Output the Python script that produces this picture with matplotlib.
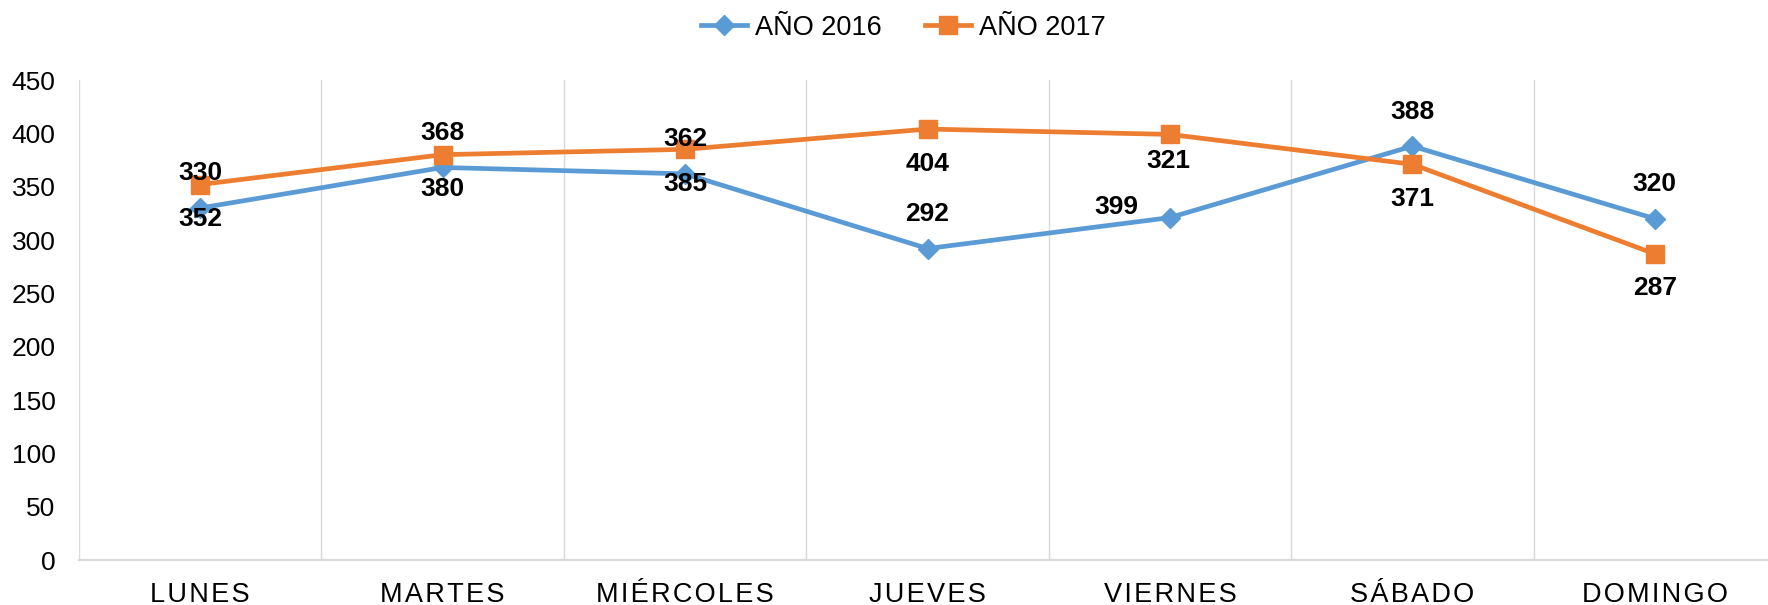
import numpy as np
import matplotlib
matplotlib.use("Agg")
import matplotlib.pyplot as plt

plt.rcParams['font.family'] = ['Liberation Sans', 'DejaVu Sans']

# ---- data ----
categories = ["LUNES", "MARTES", "MIÉRCOLES", "JUEVES", "VIERNES", "SÁBADO", "DOMINGO"]
series_names = ["AÑO 2016", "AÑO 2017"]
values_2016 = [330, 368, 362, 292, 321, 388, 320]
values_2017 = [352, 380, 385, 404, 399, 371, 287]
yticks = [0, 50, 100, 150, 200, 250, 300, 350, 400, 450]

# label offsets in pixels (style)
off_2016 = [(0, 34.5)] * 4 + [(-2, 57)] + [(0, 34.5)] * 2
off_2017 = [(0, -34.5)] * 4 + [(-54, -72.5)] + [(0, -34.5)] * 2

blue = "#5B9BD5"
orange = "#ED7D31"
grid_c = "#D9D9D9"

W, H = 1768, 605
fig = plt.figure(figsize=(W / 100, H / 100), dpi=100)
ax = fig.add_axes([79 / W, 45 / H, 1697 / W, 480 / H])

x = np.arange(len(categories)) + 0.5
l1, = ax.plot(x, values_2016, color=blue, lw=3.4, marker="D", ms=10.5,
              label=series_names[0], zorder=3)
l2, = ax.plot(x, values_2017, color=orange, lw=3.4, marker="s", ms=13,
              label=series_names[1], zorder=4)

for xi, v, o in zip(x, values_2016, off_2016):
    ax.annotate(str(v), (xi, v), xytext=o, textcoords="offset pixels",
                ha="center", va="center", fontsize=19, fontweight="bold",
                color="black", zorder=5, annotation_clip=False)
for xi, v, o in zip(x, values_2017, off_2017):
    ax.annotate(str(v), (xi, v), xytext=o, textcoords="offset pixels",
                ha="center", va="center", fontsize=19, fontweight="bold",
                color="black", zorder=5, annotation_clip=False)

ax.set_xlim(0, len(categories))
ax.set_ylim(0, 450)
ax.set_yticks(yticks)
ax.set_yticklabels([str(t) for t in yticks])
ax.set_xticks(x)
ax.set_xticklabels(["\u200a".join(c) for c in categories])
ax.set_xticks(np.arange(len(categories) + 1), minor=True)
ax.grid(which="minor", axis="x", color=grid_c, lw=1.0)
ax.grid(which="major", axis="both", visible=False)
ax.tick_params(which="both", length=0)
ax.tick_params(axis="y", labelsize=19, pad=17, colors="black")
ax.tick_params(axis="x", labelsize=19.5, pad=16, colors="black")

for s in ["top", "right", "left"]:
    ax.spines[s].set_visible(False)
ax.spines["bottom"].set_color(grid_c)
ax.spines["bottom"].set_linewidth(1.6)

fig.legend(handles=[l1, l2], loc="center", bbox_to_anchor=(0.511, 0.954),
           ncol=2, frameon=False, fontsize=19.5, handlelength=1.7,
           handletextpad=0.3, columnspacing=1.6, markerscale=1.0,
           borderpad=0.2)

fig.savefig("out.png", dpi=100)
